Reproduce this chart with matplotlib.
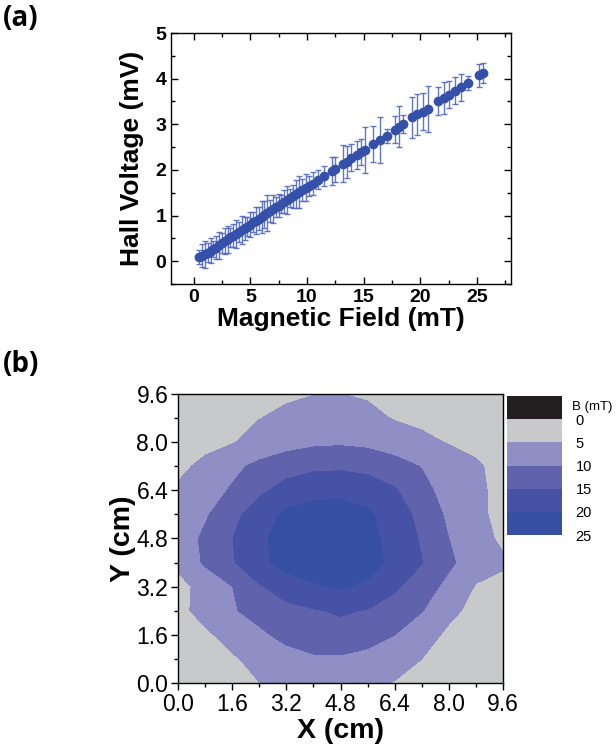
import numpy as np
import matplotlib
matplotlib.use("Agg")
import matplotlib.pyplot as plt
from matplotlib.ticker import MultipleLocator
from matplotlib.colors import ListedColormap, BoundaryNorm

plt.rcParams['font.family'] = ['Liberation Sans', 'DejaVu Sans']

# ---------------- Panel (a) data ----------------
field_mT = [0.5, 0.75, 1.0, 1.25, 1.5, 1.75, 2.0, 2.25, 2.5, 2.75, 3.0, 3.25, 3.5, 3.75,
            4.0, 4.25, 4.5, 4.75, 5.0, 5.25, 5.5, 5.75, 6.0, 6.25, 6.5, 6.75, 7.0, 7.25,
            7.5, 7.75, 8.0, 8.25, 8.5, 8.75, 9.0, 9.3, 9.6, 9.9, 10.2, 10.5,
            11.0, 11.5, 12.2, 12.5, 13.2, 13.5, 13.9, 14.4, 14.8, 15.1, 15.8, 16.4,
            17.1, 17.8, 18.1, 18.5, 19.3, 19.7, 20.2, 20.7, 21.6, 22.1, 22.5, 23.1,
            23.6, 24.2, 25.2, 25.5]
hall_mV = [0.09, 0.12, 0.15, 0.19, 0.23, 0.27, 0.30, 0.35, 0.39, 0.44, 0.48, 0.52, 0.56, 0.60,
           0.64, 0.68, 0.72, 0.76, 0.80, 0.85, 0.89, 0.93, 0.97, 1.02, 1.06, 1.10, 1.14, 1.18,
           1.22, 1.26, 1.30, 1.34, 1.38, 1.42, 1.47, 1.52, 1.56, 1.61, 1.65, 1.70,
           1.79, 1.87, 1.98, 2.01, 2.14, 2.18, 2.27, 2.33, 2.39, 2.44, 2.57, 2.66,
           2.75, 2.88, 2.95, 3.00, 3.15, 3.22, 3.28, 3.34, 3.51, 3.57, 3.65, 3.74,
           3.81, 3.90, 4.07, 4.12]
hall_err = [0.15, 0.25, 0.30, 0.20, 0.28, 0.18, 0.25, 0.30, 0.22, 0.28, 0.30, 0.20, 0.25, 0.30,
            0.22, 0.30, 0.25, 0.20, 0.28, 0.22, 0.30, 0.25, 0.35, 0.30, 0.40, 0.25, 0.30, 0.22,
            0.25, 0.20, 0.25, 0.30, 0.20, 0.25, 0.30, 0.35, 0.25, 0.30, 0.22, 0.25,
            0.20, 0.22, 0.30, 0.28, 0.40, 0.35, 0.30, 0.30, 0.28, 0.50, 0.40, 0.50,
            0.15, 0.30, 0.45, 0.20, 0.45, 0.45, 0.40, 0.50, 0.30, 0.35, 0.30, 0.30,
            0.30, 0.15, 0.25, 0.22]

# ---------------- Panel (b) data ----------------
x_cm = [0.0, 0.8, 1.6, 2.4, 3.2, 4.0, 4.8, 5.6, 6.4, 7.2, 8.0, 8.8, 9.6]
y_cm = [0.0, 0.8, 1.6, 2.4, 3.2, 4.0, 4.8, 5.6, 6.4, 7.2, 8.0, 8.8, 9.6]
# rows: y from 0.0 to 9.6 ; columns: x from 0.0 to 9.6 (B in mT)
row_y00 = [1.5, 2.5, 3.5, 4.95, 5.8, 6.4, 6.5, 5.8, 4.8, 3.8, 3.0, 2.2, 1.5]
row_y08 = [2.0, 3.0, 4.5, 6.3, 8.0, 9.3, 9.4, 8.5, 6.8, 5.0, 3.6, 2.8, 2.0]
row_y16 = [3.0, 4.3, 6.5, 9.0, 11.5, 12.8, 13.0, 12.0, 10.0, 6.8, 4.2, 3.2, 2.5]
row_y24 = [4.0, 6.3, 9.5, 11.8, 13.5, 14.6, 15.6, 14.7, 12.8, 10.2, 6.0, 3.8, 3.2]
row_y32 = [3.6, 6.5, 9.9, 14.5, 17.5, 19.3, 20.5, 19.0, 15.8, 12.5, 8.5, 4.7, 3.8]
row_y40 = [6.0, 10.7, 14.5, 18.8, 21.8, 23.5, 23.8, 22.0, 18.6, 15.1, 11.0, 7.0, 5.6]
row_y48 = [7.0, 11.0, 14.9, 19.0, 22.0, 23.8, 24.0, 21.8, 18.0, 14.5, 10.0, 6.5, 4.3]
row_y56 = [6.5, 9.3, 13.6, 17.6, 21.0, 22.3, 22.5, 20.8, 17.5, 13.5, 9.0, 5.8, 4.0]
row_y64 = [5.6, 7.8, 10.5, 14.0, 16.8, 18.2, 18.5, 17.8, 15.5, 11.5, 8.0, 5.7, 4.0]
row_y72 = [4.0, 6.0, 8.8, 11.2, 13.0, 14.0, 14.2, 13.5, 11.8, 9.8, 7.8, 5.6, 3.5]
row_y80 = [2.8, 3.8, 4.7, 6.5, 8.0, 9.0, 9.3, 8.8, 7.6, 6.2, 4.7, 3.8, 2.8]
row_y88 = [2.0, 2.8, 3.8, 4.9, 6.0, 6.8, 7.0, 6.2, 4.7, 3.8, 3.2, 2.6, 2.0]
row_y96 = [1.5, 2.0, 2.8, 3.6, 4.3, 4.9, 5.05, 4.5, 3.6, 2.9, 2.4, 2.0, 1.5]
levels = [0, 5, 10, 15, 20, 25]
level_colors = ['#c8c9cb', '#8f8fc6', '#6062ab', '#4552a5', '#3550a3']
cbar_bounds = [-5, 0, 5, 10, 15, 20, 25]
cbar_colors = ['#231f20'] + level_colors
cbar_ticks = [0, 5, 10, 15, 20, 25]

B = np.array([row_y00, row_y08, row_y16, row_y24, row_y32, row_y40, row_y48,
              row_y56, row_y64, row_y72, row_y80, row_y88, row_y96])

fig = plt.figure(figsize=(6.16, 7.56), dpi=100)

# ---------------- Panel (a) ----------------
axa = fig.add_axes([0.2776, 0.6243, 0.5519, 0.332])
axa.errorbar(field_mT, hall_mV, yerr=hall_err, fmt='none', ecolor='#5068c0',
             elinewidth=1.0, capsize=2.5, capthick=1.0, alpha=0.9, zorder=2)
axa.plot(field_mT, hall_mV, 'o', color='#3550a8', markersize=6, zorder=3)
axa.set_xlim(-2, 28)
axa.set_ylim(-0.5, 5)
axa.xaxis.set_major_locator(MultipleLocator(5))
axa.xaxis.set_minor_locator(MultipleLocator(2.5))
axa.yaxis.set_major_locator(MultipleLocator(1))
axa.yaxis.set_minor_locator(MultipleLocator(0.5))
axa.tick_params(which='both', direction='in', top=True, right=True, width=1.0)
axa.tick_params(which='major', length=5, labelsize=14)
axa.tick_params(which='minor', length=3)
for lab in axa.get_xticklabels() + axa.get_yticklabels():
    lab.set_fontweight('bold')
for sp in axa.spines.values():
    sp.set_linewidth(1.0)
axa.set_xlabel('Magnetic Field (mT)', fontsize=19, fontweight='bold', labelpad=1)
axa.set_ylabel('Hall Voltage (mV)', fontsize=19, fontweight='bold', labelpad=8)

# ---------------- Panel (b) ----------------
axb = fig.add_axes([0.289, 0.0966, 0.5276, 0.3822])
axb.contourf(x_cm, y_cm, B, levels=levels, colors=level_colors)
axb.set_xlim(0, 9.6)
axb.set_ylim(0, 9.6)
axb.set_xticks(np.arange(0, 9.61, 1.6))
axb.set_yticks(np.arange(0, 9.61, 1.6))
axb.set_xticklabels(['%.1f' % v for v in np.arange(0, 9.61, 1.6)])
axb.set_yticklabels(['%.1f' % v for v in np.arange(0, 9.61, 1.6)])
axb.xaxis.set_minor_locator(MultipleLocator(0.8))
axb.yaxis.set_minor_locator(MultipleLocator(0.8))
axb.tick_params(which='both', direction='out', width=1.0)
axb.tick_params(which='major', length=5, labelsize=16.5, pad=2)
axb.tick_params(which='minor', length=3)
for sp in axb.spines.values():
    sp.set_linewidth(1.0)
axb.set_xlabel('X (cm)', fontsize=20.5, fontweight='bold', labelpad=2)
axb.set_ylabel('Y (cm)', fontsize=20.5, fontweight='bold', labelpad=0)

# colorbar
cax = fig.add_axes([0.823, 0.2923, 0.089, 0.1839])
cmap = ListedColormap(cbar_colors)
norm = BoundaryNorm(cbar_bounds, cmap.N)
sm = matplotlib.cm.ScalarMappable(norm=norm, cmap=cmap)
cb = fig.colorbar(sm, cax=cax, boundaries=cbar_bounds, ticks=cbar_ticks)
cax.invert_yaxis()
cax.minorticks_off()
cb.outline.set_visible(False)
cax.tick_params(length=0, labelsize=10.5, pad=10)
cax.text(1.18, -2.6, 'B (mT)', transform=cax.get_yaxis_transform(), fontsize=9.5,
         va='center', ha='left')

fig.text(0.005, 0.976, '(a)', fontsize=20, fontweight='bold', ha='left', va='center',
         family=['Open Sans', 'DejaVu Sans'])
fig.text(0.005, 0.518, '(b)', fontsize=20, fontweight='bold', ha='left', va='center',
         family=['Open Sans', 'DejaVu Sans'])

fig.savefig('out.png', dpi=100)
